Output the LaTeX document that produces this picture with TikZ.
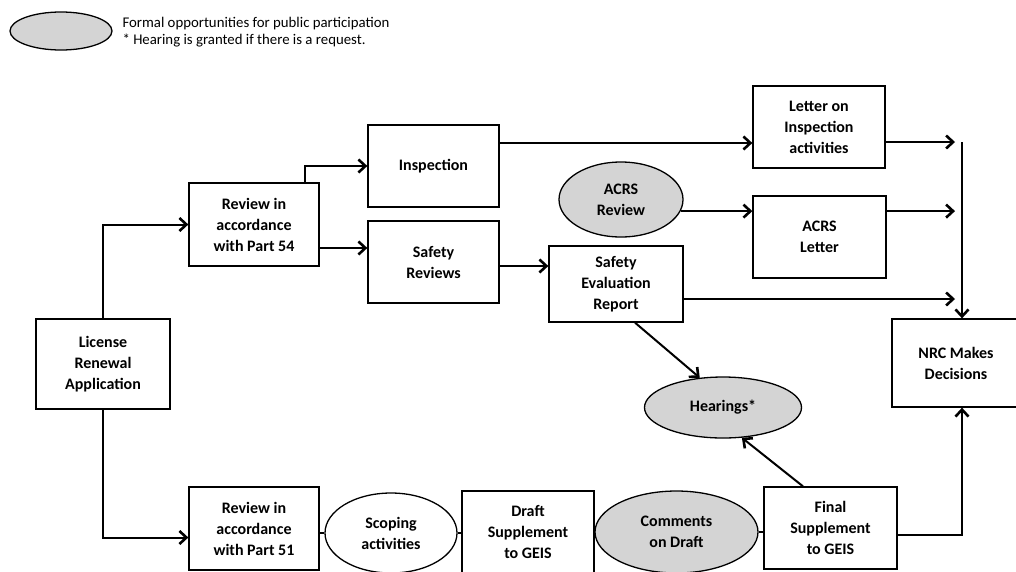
\documentclass[tikz,border=0pt]{standalone}
\usepackage{fontspec}
\setmainfont{Carlito}
\usetikzlibrary{shapes.geometric,arrows.meta}
\tikzset{
	stepbox/.style={draw, line width=1.3pt, align=center, inner sep=0pt, font=\bfseries\fontsize{16}{21}\selectfont},
	chance/.style={ellipse, draw, line width=1.3pt, align=center, inner sep=0pt, font=\bfseries\fontsize{16}{21}\selectfont},
	public/.style={chance, fill=black!17},
	flow/.style={line width=2pt, -{Straight Barb[length=7pt,width=13pt,line width=2.6pt]}},
	joint/.style={line width=1.3pt}
}
\begin{document}
\begin{tikzpicture}[x=1pt, y=-1pt]
		\useasboundingbox (0,0) rectangle (1016,571);
		% legend
		\node[public, minimum width=102pt, minimum height=38pt] (key) at (61,31) {};
		\node[anchor=west, align=left, font=\fontsize{14.8}{17}\selectfont] (keytext) at (119,32) {Formal opportunities for public participation\\* Hearing is granted if there is a request.};
		% boxes
		\node[stepbox, minimum width=134pt, minimum height=90pt] (lra) at (103,364) {License\\Renewal\\Application};
		\node[stepbox, minimum width=130pt, minimum height=83pt] (rev54) at (254,224.5) {Review in\\accordance\\with Part 54};
		\node[stepbox, minimum width=131pt, minimum height=82pt] (insp) at (433.5,166) {Inspection};
		\node[stepbox, minimum width=131pt, minimum height=82pt] (safrev) at (433.5,262) {Safety\\Reviews};
		\node[stepbox, minimum width=132pt, minimum height=82pt] (letter) at (819,127) {Letter on\\Inspection\\activities};
		\node[public, minimum width=124pt, minimum height=75pt] (acrsrev) at (621,199.5) {ACRS\\Review};
		\node[stepbox, minimum width=133pt, minimum height=82pt] (acrslet) at (819.5,237) {ACRS\\Letter};
		\node[stepbox, minimum width=134pt, minimum height=76pt] (ser) at (616,284) {Safety\\Evaluation\\Report};
		\node[stepbox, minimum width=128pt, minimum height=88pt] (nrc) at (956,363) {NRC Makes\\Decisions};
		\node[public, minimum width=157pt, minimum height=61pt] (hear) at (723,407.5) {Hearings*};
		\node[stepbox, minimum width=130pt, minimum height=83pt] (rev51) at (254,528.5) {Review in\\accordance\\with Part 51};
		\node[chance, minimum width=132pt, minimum height=80pt] (scop) at (391,533) {Scoping\\activities};
		\node[stepbox, minimum width=132pt, minimum height=82pt] (draft) at (528,532) {Draft\\Supplement\\to GEIS};
		\node[public, minimum width=163pt, minimum height=82pt] (comm) at (676.5,532) {Comments\\on Draft};
		\node[stepbox, minimum width=133pt, minimum height=82pt] (final) at (830.5,528) {Final\\Supplement\\to GEIS};
		% bus into NRC
		\coordinate (bus) at (962,142);
		\coordinate (busL) at (955,142);
		% connectors
		\draw[flow] (lra.north) |- (rev54.west);
		\draw[flow] (lra.south) |- ([yshift=-9pt]rev51.west);
		\draw[flow] ([xshift=51pt]rev54.north) |- (insp.west);
		\draw[flow] ([yshift=-23.5pt]rev54.east) coordinate (r1) -- (r1 -| safrev.west);
		\draw[flow] ([yshift=23pt]insp.east) coordinate (i1) -- (i1 -| letter.west);
		\draw[flow] ([yshift=-4pt]safrev.east) coordinate (s1) -- (s1 -| ser.west);
		\draw[flow] (acrsrev.-11) -- (acrsrev.-11 -| acrslet.west);
		\draw[flow] (acrsrev.-11 -| acrslet.east) -- (acrsrev.-11 -| busL);
		\draw[flow] ([yshift=-15pt]letter.east) coordinate (l1) -- (l1 -| busL);
		\draw[flow] ([yshift=-15pt]ser.east) coordinate (e1) -- (e1 -| busL);
		\draw[flow] (bus) -- (bus |- nrc.north);
		\draw[flow] ([xshift=19pt]ser.south) -- (hear.128);
		\draw[flow] ([xshift=-27.5pt]final.north) -- (hear.-58);
		\draw[flow] ([yshift=-7pt]final.east) -| (bus |- nrc.south);
		\draw[joint] (scop.west) -- (scop.west -| rev51.east);
		\draw[joint] (scop.east) -- (scop.east -| draft.west);
		\draw[joint] (comm.west) -- (comm.west -| draft.east);
		\draw[joint] (comm.east) -- (comm.east -| final.west);
	\end{tikzpicture}
\end{document}
